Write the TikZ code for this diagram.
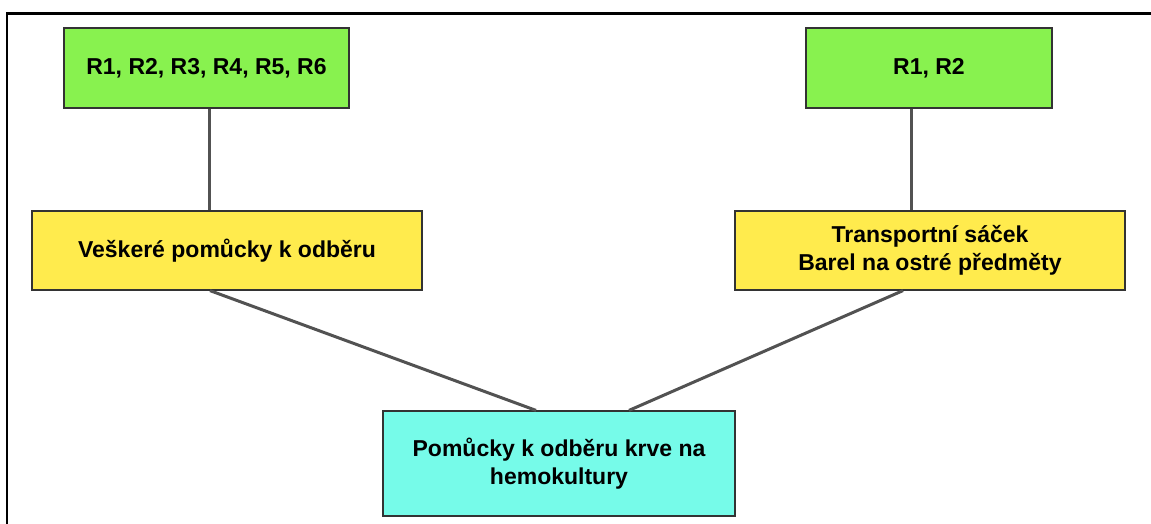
\documentclass[tikz,border=0pt]{standalone}
\usepackage{fontspec}
\setmainfont{Liberation Sans}
\begin{document}
\begin{tikzpicture}[x=1pt,y=-1pt,
  box/.style={draw=black!80, line width=1.2pt, align=center, inner sep=0pt,
    font=\fontsize{23pt}{28.5pt}\selectfont\bfseries},
  link/.style={draw=black!68, line width=3pt}]
\useasboundingbox (0,0) rectangle (1151,524);
\draw[line width=2.2pt] (7,530) -- (7,13.5) -- (1160,13.5);
\definecolor{gr}{HTML}{88F24F}
\definecolor{ye}{HTML}{FFEB4D}
\definecolor{cy}{HTML}{76FBE9}
\node[box, fill=gr, minimum width=285pt, minimum height=80pt] (g1) at (206.5,68) {R1, R2, R3, R4, R5, R6};
\node[box, fill=gr, minimum width=246pt, minimum height=80pt] (g2) at (929,68) {R1, R2};
\node[box, fill=ye, minimum width=390pt, minimum height=79pt] (y1) at (227,250.5) {Veškeré pomůcky k odběru};
\node[box, fill=ye, minimum width=390pt, minimum height=79pt] (y2) at (930,250.5) {Transportní sáček\\Barel na ostré předměty};
\node[box, fill=cy, minimum width=352pt, minimum height=105pt] (c) at (559,463.5) {Pomůcky k odběru krve na\\hemokultury};
\draw[link] ([xshift=2.5pt]g1.south) -- ([xshift=-18pt]y1.north);
\draw[link] ([xshift=-18pt]g2.south) -- ([xshift=-19pt]y2.north);
\draw[link] ([xshift=-17pt]y1.south) -- ([xshift=-23pt]c.north);
\draw[link] ([xshift=-27pt]y2.south) -- ([xshift=70pt]c.north);
\end{tikzpicture}
\end{document}
